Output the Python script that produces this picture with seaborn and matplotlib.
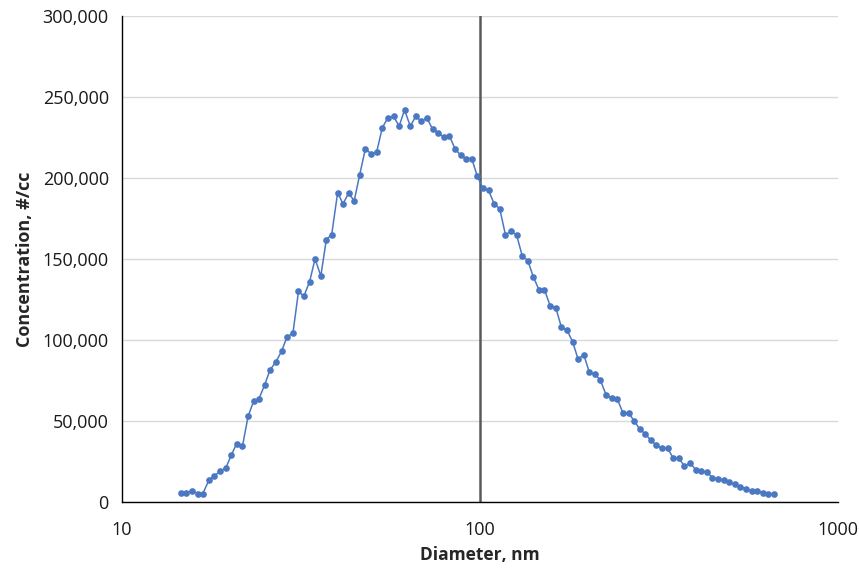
import numpy as np
import pandas as pd
import matplotlib
matplotlib.use("Agg")
import matplotlib.pyplot as plt
import seaborn as sns
from matplotlib.ticker import FuncFormatter, FixedLocator, NullLocator

# SMPS channel mid-point diameters (nm), 64 channels per decade
diameter = [
    14.6, 15.1, 15.7, 16.3, 16.8, 17.5, 18.1, 18.8, 19.5, 20.2,
    20.9, 21.7, 22.5, 23.3, 24.1, 25.0, 25.9, 26.9, 27.9, 28.9,
    30.0, 31.1, 32.2, 33.4, 34.6, 35.9, 37.2, 38.5, 40.0, 41.4,
    42.9, 44.5, 46.1, 47.8, 49.6, 51.4, 53.3, 55.2, 57.3, 59.4,
    61.5, 63.8, 66.1, 68.5, 71.0, 73.7, 76.4, 79.1, 82.0, 85.1,
    88.2, 91.4, 94.7, 98.2, 101.8, 105.5, 109.4, 113.4, 117.6, 121.9,
    126.3, 131.0, 135.8, 140.7, 145.9, 151.2, 156.8, 162.5, 168.5, 174.7,
    181.1, 187.7, 194.6, 201.7, 209.1, 216.7, 224.7, 232.9, 241.4, 250.3,
    259.5, 269.0, 278.8, 289.0, 299.6, 310.6, 322.0, 333.8, 346.0, 358.7,
    371.8, 385.4, 399.5, 414.2, 429.4, 445.1, 461.4, 478.3, 495.8, 514.0,
    532.8, 552.3, 572.5, 593.5, 615.3, 637.8, 661.2,
]

concentration = [
    5500, 5500, 7000, 5000, 5000, 13500, 16000, 19000, 21000, 29000,
    36000, 34500, 53000, 62000, 63500, 72000, 81500, 86500, 93000, 102000,
    104000, 130000, 127000, 136000, 150000, 139500, 162000, 165000, 191000, 184000,
    190500, 186000, 202000, 218000, 215000, 216000, 231000, 237000, 238000, 232000,
    242000, 232000, 238000, 235000, 237000, 230000, 228000, 225000, 226000, 218000,
    214000, 212000, 212000, 201000, 193500, 192500, 184000, 181000, 165000, 167000,
    165000, 152000, 149000, 139000, 131000, 131000, 121000, 120000, 108000, 106000,
    99000, 88000, 91000, 80000, 79000, 75000, 66000, 64000, 63500, 55000,
    55000, 50000, 45000, 42000, 38000, 35000, 33000, 33000, 27000, 27000,
    22000, 24000, 20000, 19000, 18500, 15000, 14000, 13500, 12000, 11000,
    9500, 8000, 6500, 7000, 5500, 5000, 5000,
]

x_ticks = [10, 100, 1000]
y_ticks = [0, 50000, 100000, 150000, 200000, 250000, 300000]

df = pd.DataFrame({"diameter": diameter, "concentration": concentration})

sns.set_style("white")
plt.rcParams["font.family"] = ["Open Sans", "DejaVu Sans"]

fig = plt.figure(figsize=(8.59, 5.71), dpi=100)
ax = fig.add_axes([0.142, 0.121, 0.834, 0.851])

ax.set_xscale("log")
sns.lineplot(data=df, x="diameter", y="concentration", ax=ax,
             color="#4a78c2", marker="o", markersize=4.8, markeredgewidth=0,
             linewidth=1.1, zorder=3)

ax.axvline(100, color="#595959", linewidth=1.8, zorder=2)

ax.set_xlim(10, 1000)
ax.set_ylim(0, 300000)
ax.xaxis.set_major_locator(FixedLocator(x_ticks))
ax.xaxis.set_minor_locator(NullLocator())
ax.xaxis.set_major_formatter(FuncFormatter(lambda v, p: f"{v:g}"))
ax.set_yticks(y_ticks)
ax.yaxis.set_major_formatter(FuncFormatter(lambda v, p: f"{int(v):,}"))

ax.yaxis.grid(True, color="#d9d9d9", linewidth=1.0)
ax.xaxis.grid(False)
ax.set_axisbelow(True)

for s in ["top", "right"]:
    ax.spines[s].set_visible(False)
for s in ["left", "bottom"]:
    ax.spines[s].set_color("#000000")
    ax.spines[s].set_linewidth(1.0)

ax.tick_params(axis="both", which="major", direction="out", length=6,
               width=1.0, color="#000000", labelsize=13, labelcolor="#1a1a1a")
ax.tick_params(axis="x", pad=8)

ax.set_xlabel("Diameter, nm", fontsize=12.5, fontweight="bold", labelpad=5)
ax.set_ylabel("Concentration, #/cc", fontsize=13, fontweight="bold", labelpad=6)

fig.savefig("out.png", dpi=100)
